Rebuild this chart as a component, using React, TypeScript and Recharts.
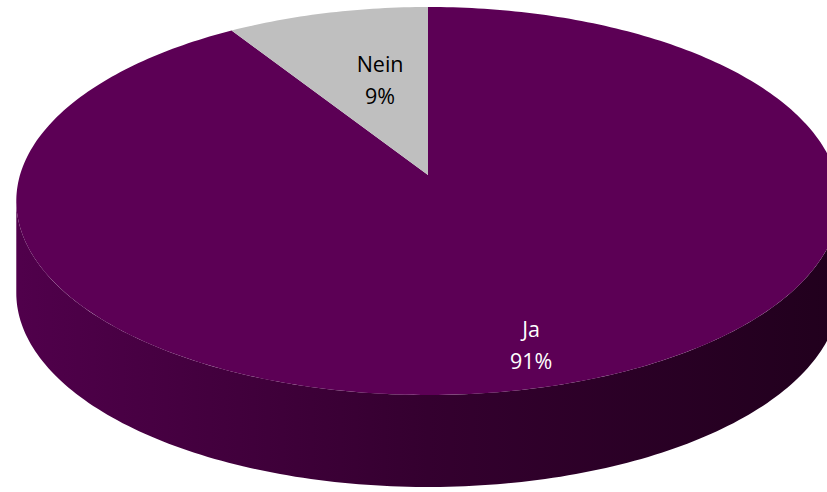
import { PieChart, Pie } from "recharts";

// answers and their share
const categories = ["Ja", "Nein"];
const shares = [91, 9];
const pctLabels = ["91%", "9%"];

const data = categories.map((name, i) => ({
  name,
  value: shares[i],
  pct: pctLabels[i],
}));

const W = 827;
const H = 492;
const CX = 428;
const CY = 175;
const R = 190.5;
const X_RATIO = 408 / 190.5;
const PERSP = 0.134; // perspective: far side smaller than near side
const DEPTH = 92;

const TOP_COLORS = ["#5c0055", "#bfbfbf"];
const TEXT_COLORS = ["#ffffff", "#000000"];
// label placement factors along the slice's mid angle (x, y)
const LABEL_K = [
  [0.813, 0.795],
  [0.454, 0.607],
];

const rad = (a: number) => (a * Math.PI) / 180;
const SILHOUETTE = (Math.asin(PERSP) * 180) / Math.PI;

// project a point of the (tilted) pie disc onto the screen
function proj(cx: number, cy: number, r: number, a: number, ku = 1, kw = 1) {
  const u = ku * Math.cos(rad(a));
  const w = kw * Math.sin(rad(a));
  const d = 1 + PERSP * w;
  return [cx + (r * X_RATIO * u) / d, cy - (r * w) / d];
}

function arcPts(cx: number, cy: number, r: number, from: number, to: number) {
  const pts: string[] = [];
  const n = Math.max(2, Math.ceil(Math.abs(to - from)));
  for (let i = 0; i <= n; i++) {
    const [x, y] = proj(cx, cy, r, from + ((to - from) * i) / n);
    pts.push(`${x.toFixed(2)},${y.toFixed(2)}`);
  }
  return pts;
}

function renderSide(props: any) {
  const { cx, cy, outerRadius, startAngle, endAngle, index } = props;
  const s = Math.max(startAngle, endAngle);
  const e = Math.min(startAngle, endAngle);
  const parts = [];
  for (let k = -2; k <= 2; k++) {
    const lo = Math.max(e, -180 + SILHOUETTE + 360 * k);
    const hi = Math.min(s, -SILHOUETTE + 360 * k);
    if (hi <= lo) continue;
    const top = arcPts(cx, cy, outerRadius, lo, hi);
    const bottom = arcPts(cx, cy + DEPTH, outerRadius, hi, lo);
    parts.push(
      <polygon
        key={`${index}-${k}`}
        points={[...top, ...bottom].join(" ")}
        fill="url(#sideGrad)"
      />
    );
  }
  const rx = outerRadius * X_RATIO;
  return (
    <g key={`side-${index}`}>
      <defs>
        <linearGradient id="sideGrad" gradientUnits="userSpaceOnUse" x1={cx - rx} y1={0} x2={cx + rx} y2={0}>
          <stop offset="0%" stopColor="#50004b" />
          <stop offset="50%" stopColor="#34002f" />
          <stop offset="100%" stopColor="#21001d" />
        </linearGradient>
      </defs>
      {parts}
    </g>
  );
}

function renderTop(props: any) {
  const { cx, cy, outerRadius, startAngle, endAngle, index } = props;
  const arc = arcPts(cx, cy, outerRadius, startAngle, endAngle);
  return (
    <polygon
      key={`top-${index}`}
      points={[`${cx},${cy}`, ...arc].join(" ")}
      fill={TOP_COLORS[index]}
    />
  );
}

function renderText(props: any) {
  const { cx, cy, outerRadius, midAngle, index, name, payload } = props;
  const [ku, kw] = LABEL_K[index];
  const [x, y] = proj(cx, cy, outerRadius, midAngle, ku, kw);
  return (
    <text
      key={`txt-${index}`}
      x={x}
      y={y}
      textAnchor="middle"
      fill={TEXT_COLORS[index]}
      fontFamily="'Open Sans', sans-serif"
      fontSize={21.5}
    >
      <tspan x={x} y={y}>{name}</tspan>
      <tspan x={x} y={y + 32}>{payload?.pct ?? props.pct}</tspan>
    </text>
  );
}

export default function App() {
  const common = {
    data,
    dataKey: "value",
    nameKey: "name",
    cx: CX,
    cy: CY,
    outerRadius: R,
    startAngle: 90,
    endAngle: -270,
    isAnimationActive: false,
    fill: "none",
    stroke: "none",
    labelLine: false,
  };
  return (
    <div style={{ position: "fixed", left: 0, top: 0, width: W, height: H, background: "#fff" }}>
      <PieChart width={W} height={H} margin={{ top: 0, right: 0, bottom: 0, left: 0 }}>
        <Pie {...common} label={renderSide} />
        <Pie {...common} label={renderTop} />
        <Pie {...common} label={renderText} />
      </PieChart>
    </div>
  );
}
